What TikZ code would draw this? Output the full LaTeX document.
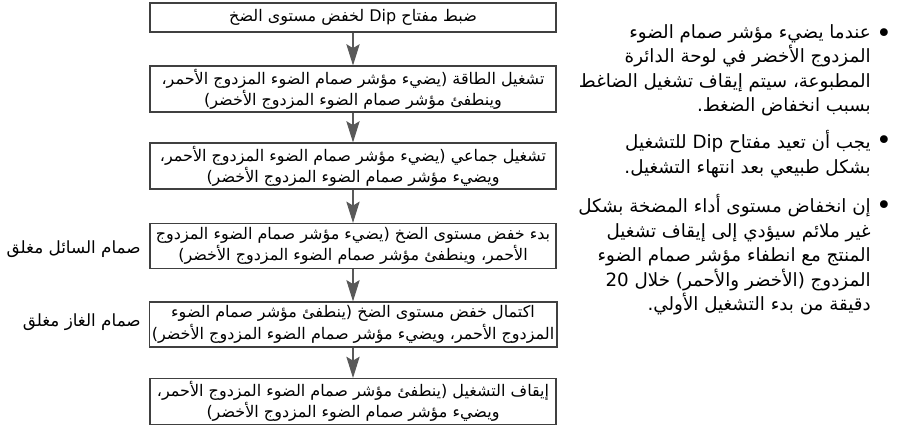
\documentclass[tikz,border=0pt]{standalone}
\usepackage{fontspec}
\newfontfamily\arabicfont[Script=Arabic]{DejaVu Sans}
\TeXXeTstate=1
\usetikzlibrary{arrows.meta}
\newcommand{\artxt}[1]{\beginR #1\endR}

\begin{document}
\begin{tikzpicture}[
    x=0.75pt, y=-0.75pt,
    line/.style={draw=black!65, line width=0.8pt, -{Stealth[length=16pt, width=10pt, inset=3pt]}},
    box/.style={
        draw=black!75,
        line width=0.9pt,
        align=center,
        minimum width=304.5pt,
        minimum height=33.75pt,
        inner sep=2pt,
        font=\arabicfont\fontsize{12}{16}\selectfont
    },
    sidenote/.style={anchor=east, inner sep=0pt, font=\arabicfont\fontsize{12.6}{15}\selectfont},
    notetext/.style={anchor=north east, align=right, inner sep=0pt, font=\arabicfont\fontsize{13.7}{18.4}\selectfont},
    dot/.style={inner sep=0pt, font=\arabicfont\fontsize{20}{20}\selectfont}
]
\useasboundingbox (0,0) rectangle (903,425);
% Flow boxes
\node[box, minimum height=21.75pt] (dip) at (353,17.5) {\artxt{ضبط مفتاح Dip لخفض مستوى الضخ}};
\node[box] (power) at (353,89) {\artxt{تشغيل الطاقة (يضيء مؤشر صمام الضوء المزدوج الأحمر،}\\\artxt{وينطفئ مؤشر صمام الضوء المزدوج الأخضر)}};
\node[box] (group) at (353,166) {\artxt{تشغيل جماعي (يضيء مؤشر صمام الضوء المزدوج الأحمر،}\\\artxt{ويضيء مؤشر صمام الضوء المزدوج الأخضر)}};
\node[box] (start) at (353,246) {\artxt{بدء خفض مستوى الضخ (يضيء مؤشر صمام الضوء المزدوج}\\\artxt{الأحمر، وينطفئ مؤشر صمام الضوء المزدوج الأخضر)}};
\node[box] (done) at (353,324.5) {\artxt{اكتمال خفض مستوى الضخ (ينطفئ مؤشر صمام الضوء}\\\artxt{المزدوج الأحمر، ويضيء مؤشر صمام الضوء المزدوج الأخضر)}};
\node[box] (stop) at (353,401.5) {\artxt{إيقاف التشغيل (ينطفئ مؤشر صمام الضوء المزدوج الأحمر،}\\\artxt{ويضيء مؤشر صمام الضوء المزدوج الأخضر)}};
% Valve notes
\node[sidenote] (liquid) at (141,249) {\artxt{صمام السائل مغلق}};
\node[sidenote] (gas) at (141,322) {\artxt{صمام الغاز مغلق}};
% Connections
\draw[line] (dip.south) -- (power.north);
\draw[line] (power.south) -- (group.north);
\draw[line] (group.south) -- (start.north);
\draw[line] (start.south) -- (done.north);
\draw[line] (done.south) -- (stop.north);
% Notes on the right
\node[dot] (b1) at (884,36) {•};
\node[notetext] (n1) at (871,24) {\artxt{عندما يضيء مؤشر صمام الضوء}\\\artxt{المزدوج الأخضر في لوحة الدائرة}\\\artxt{المطبوعة، سيتم إيقاف تشغيل الضاغط}\\\artxt{بسبب انخفاض الضغط.}};
\node[dot] (b2) at (884,143) {•};
\node[notetext] (n2) at (871,130) {\artxt{يجب أن تعيد مفتاح Dip للتشغيل}\\\artxt{بشكل طبيعي بعد انتهاء التشغيل.}};
\node[dot] (b3) at (884,208) {•};
\node[notetext] (n3) at (871,194) {\artxt{إن انخفاض مستوى أداء المضخة بشكل}\\\artxt{غير ملائم سيؤدي إلى إيقاف تشغيل}\\\artxt{المنتج مع انطفاء مؤشر صمام الضوء}\\\artxt{المزدوج (الأخضر والأحمر) خلال 20}\\\artxt{دقيقة من بدء التشغيل الأولي.}};
\end{tikzpicture}
\end{document}
